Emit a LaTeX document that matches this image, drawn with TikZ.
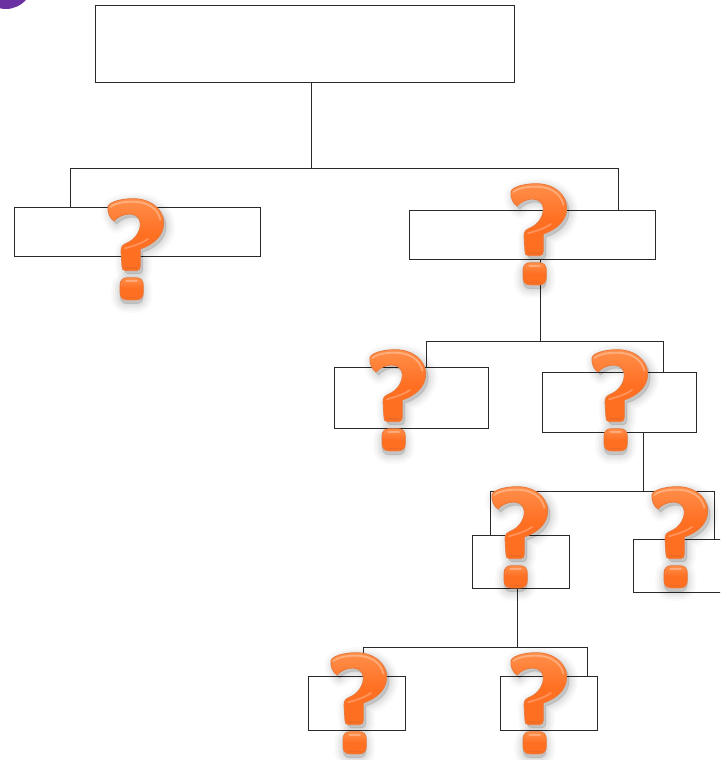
\documentclass[tikz,border=0pt]{standalone}
\usetikzlibrary{calc}
\definecolor{edgeink}{HTML}{2A2A2A}
\definecolor{qedge}{HTML}{E9793A}
\definecolor{qlight}{HTML}{FF8F4A}
\definecolor{qmain}{HTML}{FF6F22}
\definecolor{blob}{HTML}{6A2FA0}
\newcommand{\qoutline}{(55,50) .. controls (62,35) and (100,27) .. (130,27) .. controls (185,27) and (222,60) .. (222,100) .. controls (222,140) and (190,165) .. (152,178) -- (152,230) .. controls (152,238) and (148,243) .. (140,243) -- (108,243) .. controls (100,243) and (97,238) .. (97,230) -- (94,184) .. controls (94,170) and (100,165) .. (112,160) .. controls (135,150) and (152,128) .. (152,102) .. controls (152,84) and (138,73) .. (120,73) .. controls (103,73) and (85,81) .. (73,94) .. controls (62,88) and (52,68) .. (55,50) -- cycle}
\newcommand{\qdot}{(114,264) -- (138,264) .. controls (153,264) and (161,272) .. (161,287) -- (161,308) .. controls (161,323) and (153,331) .. (138,331) -- (114,331) .. controls (99,331) and (91,323) .. (91,308) -- (91,287) .. controls (91,272) and (99,264) .. (114,264) -- cycle}
\tikzset{
  x=1pt,y=-1pt,
  boxnode/.style={draw=edgeink,line width=0.9pt,rectangle,inner sep=0pt,outer sep=0pt,fill=none},
  link/.style={draw=edgeink,line width=0.9pt},
  qmark/.pic={
    \begin{scope}[scale=0.3333,shift={(-55,-28)}]
      \foreach \d/\o in {18/0.02,14/0.025,10/0.03,6/0.035,2/0.04}{
        \fill[black,opacity=\o,line width=\d pt,draw=black,draw opacity=\o,line join=round] [shift={(8,10)}] \qoutline;
        \fill[black,opacity=\o,line width=\d pt,draw=black,draw opacity=\o,line join=round] [shift={(0,12)}] \qdot;
      }
      \path[draw=qedge,line width=0.8pt,top color=qlight,bottom color=qmain,middle color=qmain] \qoutline;
      \path[draw=qedge,line width=0.8pt,top color=qlight,bottom color=qmain,middle color=qmain] \qdot;
      \draw[white,opacity=0.3,line width=1.8pt,line cap=round] (62,52) .. controls (80,38) and (110,36) .. (130,36) .. controls (175,36) and (205,58) .. (212,90);
      \draw[white,opacity=0.25,line width=1.8pt,line cap=round] (106,176) .. controls (125,170) and (150,165) .. (175,148);
      \draw[white,opacity=0.3,line width=1.6pt,line cap=round] (110,274) -- (142,274);
      \draw[qedge!80!black,opacity=0.25,line width=1.6pt,line cap=round] (108,235) -- (142,235);
      \draw[qedge!80!black,opacity=0.25,line width=1.6pt,line cap=round] (106,323) -- (146,323);
    \end{scope}
  }
}
\begin{document}
\begin{tikzpicture}
\useasboundingbox (0,0) rectangle (720,760);
\clip (0,0) rectangle (720,760);
\fill[blob] (6,-24) ellipse [x radius=29, y radius=33];
% boxes
\node[boxnode,minimum width=419pt,minimum height=77pt] (root) at (304.5,43.5) {};
\node[boxnode,minimum width=246pt,minimum height=49pt] (l1) at (137,232) {};
\node[boxnode,minimum width=246pt,minimum height=49pt] (r1) at (532,234.5) {};
\node[boxnode,minimum width=154.6pt,minimum height=61pt] (l2) at (411.6,397.5) {};
\node[boxnode,minimum width=154.6pt,minimum height=60pt] (r2) at (619.6,402) {};
\node[boxnode,minimum width=97.6pt,minimum height=53pt] (l3) at (521,561.6) {};
\node[boxnode,minimum width=97.6pt,minimum height=53pt] (r3) at (682,565.6) {};
\node[boxnode,minimum width=97.6pt,minimum height=54pt] (l4) at (357,703) {};
\node[boxnode,minimum width=97.6pt,minimum height=54pt] (r4) at (549,703) {};
% junction points
\coordinate (j1) at (311,168);
\coordinate (j1l) at (70.8,168);
\coordinate (j1r) at (618.8,168);
\coordinate (j2) at (540,341);
\coordinate (j2l) at (426,341);
\coordinate (j2r) at (663,341);
\coordinate (j3) at (643,491);
\coordinate (j3l) at (490.8,491);
\coordinate (j3r) at (714.8,491);
\coordinate (j4) at (517,647);
\coordinate (j4l) at (363,647);
\coordinate (j4r) at (587,647);
% connectors
\draw[link] (root.south -| j1) -- (j1);
\draw[link] (l1.north -| j1l) -- (j1l) -- (j1r) -- (r1.north -| j1r);
\draw[link] (r1.south -| j2) -- (j2);
\draw[link] (l2.north -| j2l) -- (j2l) -- (j2r) -- (r2.north -| j2r);
\draw[link] (r2.south -| j3) -- (j3);
\draw[link] (l3.north -| j3l) -- (j3l) -- (j3r) -- (r3.north -| j3r);
\draw[link] (l3.south -| j4) -- (j4);
\draw[link] (l4.north -| j4l) -- (j4l) -- (j4r) -- (r4.north -| j4r);
% question marks
\pic (m1) at (108,199) {qmark};
\pic (m2) at (511,184) {qmark};
\pic (m3) at (370,350) {qmark};
\pic (m4) at (592,350) {qmark};
\pic (m5) at (492,487) {qmark};
\pic (m6) at (652,487) {qmark};
\pic (m7) at (331,653) {qmark};
\pic (m8) at (511,653) {qmark};
\end{tikzpicture}
\end{document}
